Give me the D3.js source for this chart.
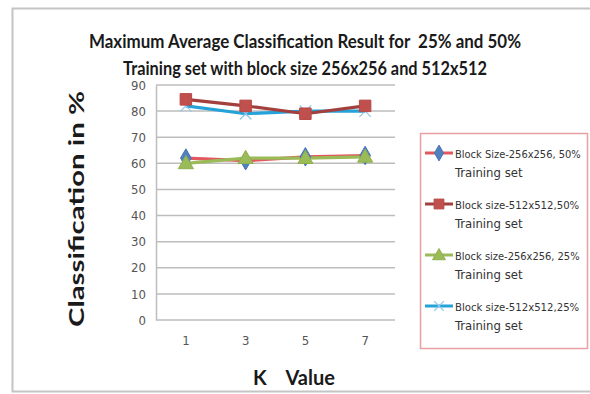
<!DOCTYPE html>
<html>
<head>
<meta charset="utf-8">
<script src="https://cdn.jsdelivr.net/npm/d3@7"></script>
<style>
  body { margin: 0; background: #fff; }
  svg { display: block; }
</style>
</head>
<body>
<svg id="chart" width="590" height="394"></svg>
<script>
// K values on the x axis
const categories = ["1", "3", "5", "7"];
const yTicks = [0, 10, 20, 30, 40, 50, 60, 70, 80, 90];

// Classification results (%) per K value
const s256_50 = [62, 61, 62.5, 63];
const s512_50 = [84.5, 82, 79, 82];
const s256_25 = [60, 62, 62, 62.5];
const s512_25 = [82, 79, 80, 80];

const seriesNames = [
  ["Block Size-256x256, 50%", "Training set"],
  ["Block size-512x512,50%", "Training set"],
  ["Block size-256x256, 25%", "Training set"],
  ["Block size-512x512,25%", "Training set"]
];

const series = [
  { values: s256_50, line: "#e2585e", marker: "#4a72b8", fill: "#4f81bd", shape: "diamond", name: seriesNames[0] },
  { values: s512_50, line: "#a33f3c", marker: "#b84744", fill: "#c0504d", shape: "square", name: seriesNames[1] },
  { values: s256_25, line: "#9bbb59", marker: "#8fb04c", fill: "#9bbb59", shape: "triangle", name: seriesNames[2] },
  { values: s512_25, line: "#25a3d9", marker: "#8fc7e8", fill: "#8fc7e8", shape: "cross", name: seriesNames[3] }
];

const svg = d3.select("#chart");
const narrow = "'Liberation Sans Narrow', 'DejaVu Sans Condensed', 'Noto Sans', sans-serif";
const boldFont = "Lato, 'Open Sans', sans-serif";

// shrink a text's font size until its natural width fits maxW
function fitText(sel, maxW, startSize) {
  let size = startSize;
  sel.attr("font-size", size);
  while (sel.node().getComputedTextLength() > maxW && size > 8) {
    size -= 0.25;
    sel.attr("font-size", size);
  }
  return sel;
}

// outer chart frame
svg.append("rect")
  .attr("x", 12.5).attr("y", 8.5).attr("width", 600).attr("height", 383)
  .attr("fill", "none").attr("stroke", "#c4c4c4").attr("stroke-width", 2);

const plot = { left: 156, right: 395, top: 85, bottom: 320 };

const x = d3.scaleBand().domain(categories).range([plot.left, plot.right]);
const y = d3.scaleLinear().domain([0, 90]).range([plot.bottom, plot.top]);

// title
const title = svg.append("g")
  .attr("font-family", boldFont).attr("font-weight", "bold")
  .attr("font-size", 18).attr("fill", "#1a1a1a").attr("text-anchor", "middle");
title.append("text").attr("x", 305).attr("y", 48)
  .attr("xml:space", "preserve")
  .attr("textLength", 432).attr("lengthAdjust", "spacingAndGlyphs")
  .text("Maximum Average Classification Result for  25% and 50%");
title.append("text").attr("x", 305).attr("y", 75)
  .attr("textLength", 364).attr("lengthAdjust", "spacingAndGlyphs")
  .text("Training set with block size 256x256 and 512x512");

// horizontal gridlines
svg.append("g").selectAll("line").data(yTicks).join("line")
  .attr("x1", plot.left).attr("x2", plot.right)
  .attr("y1", d => y(d)).attr("y2", d => y(d))
  .attr("stroke", "#bdbdbd").attr("stroke-width", 1.5);

// y axis
const yAxis = svg.append("g")
  .attr("transform", `translate(${plot.left},0)`)
  .call(d3.axisLeft(y).tickValues(yTicks).tickSize(0).tickPadding(10));
yAxis.select(".domain").attr("stroke", "#bdbdbd").attr("stroke-width", 1.5);
yAxis.selectAll("text").attr("font-family", narrow).attr("font-size", 13).attr("fill", "#555");

// x axis
const xAxis = svg.append("g")
  .attr("transform", `translate(0,${plot.bottom})`)
  .call(d3.axisBottom(x).tickSize(0).tickPadding(16));
xAxis.select(".domain").remove();
xAxis.selectAll("text").attr("font-family", narrow).attr("font-size", 13).attr("fill", "#555");

// axis titles
svg.append("text")
  .attr("transform", "translate(84,209) rotate(-90)")
  .attr("text-anchor", "middle")
  .attr("font-family", boldFont).attr("font-weight", "bold").attr("font-size", 21)
  .attr("fill", "#1a1a1a")
  .attr("textLength", 236).attr("lengthAdjust", "spacingAndGlyphs")
  .text("Classification in %");

svg.append("text")
  .attr("x", 294).attr("y", 385)
  .attr("text-anchor", "middle")
  .attr("font-family", boldFont).attr("font-weight", "bold").attr("font-size", 20)
  .attr("fill", "#1a1a1a")
  .attr("xml:space", "preserve")
  .text("K    Value");

const cx = (i) => x(categories[i]) + x.bandwidth() / 2;

function drawMarker(g, shape, px, py, s, size) {
  if (shape === "diamond") {
    g.append("path").attr("d", d3.symbol(d3.symbolDiamond, size * 9)())
      .attr("transform", `translate(${px},${py})`).attr("fill", s.fill).attr("stroke", s.marker);
  } else if (shape === "square") {
    g.append("path").attr("d", d3.symbol(d3.symbolSquare, size * 12)())
      .attr("transform", `translate(${px},${py})`).attr("fill", s.fill).attr("stroke", s.marker);
  } else if (shape === "triangle") {
    g.append("path").attr("d", d3.symbol(d3.symbolTriangle, size * 9)())
      .attr("transform", `translate(${px},${py + 1})`).attr("fill", s.fill).attr("stroke", s.marker);
  } else {
    g.append("path").attr("d", d3.symbol(d3.symbolTimes, size * 8)())
      .attr("transform", `translate(${px},${py})`).attr("fill", "none")
      .attr("stroke", s.fill).attr("stroke-width", 1.3);
  }
}

// series lines and markers
const line = d3.line().x((d, i) => cx(i)).y(d => y(d));
const order = [3, 1, 0, 2];
order.forEach(k => {
  const s = series[k];
  svg.append("path").datum(s.values)
    .attr("d", line).attr("fill", "none")
    .attr("stroke", s.line).attr("stroke-width", 3.2);
});
order.forEach(k => {
  const s = series[k];
  const g = svg.append("g");
  s.values.forEach((v, i) => drawMarker(g, s.shape, cx(i), y(v), s, 11));
});

// legend
const legend = svg.append("g");
legend.append("rect")
  .attr("x", 420.5).attr("y", 133.5).attr("width", 167).attr("height", 215)
  .attr("fill", "#fff").attr("stroke", "#e6a0a4").attr("stroke-width", 1.5);

series.forEach((s, k) => {
  const ly = 153 + k * 51;
  const g = legend.append("g");
  g.append("line").attr("x1", 425).attr("x2", 453).attr("y1", ly).attr("y2", ly)
    .attr("stroke", s.line).attr("stroke-width", 3);
  drawMarker(g, s.shape, 439, ly, s, 8);
  const t = g.append("text").attr("x", 455).attr("y", ly + 5)
    .attr("font-family", narrow).attr("fill", "#333")
    .text(s.name[0]);
  fitText(t, 126, 13);
  g.append("text").attr("x", 455).attr("y", ly + 24)
    .attr("font-family", narrow).attr("font-size", 13).attr("fill", "#333")
    .text(s.name[1]);
});
</script>
</body>
</html>
